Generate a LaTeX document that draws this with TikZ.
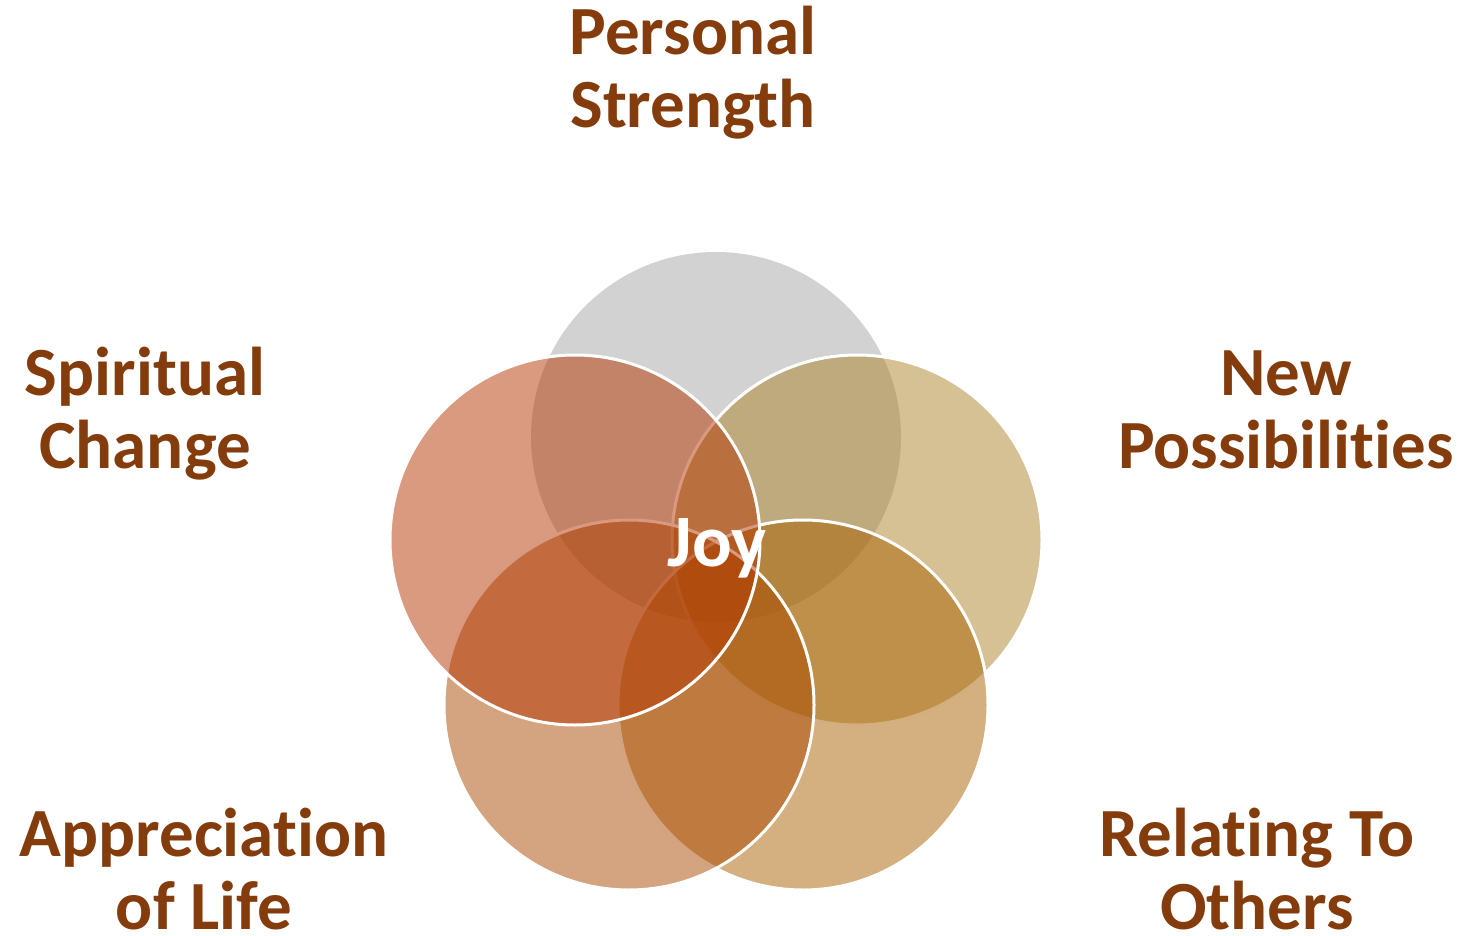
\documentclass[tikz,border=0pt]{standalone}
\usepackage{fontspec}
\setmainfont{Carlito}[Ligatures=NoCommon]
\definecolor{txtbrown}{HTML}{843C0C}
\definecolor{cTop}{HTML}{A5A5A5}
\definecolor{cLeft}{HTML}{B33500}
\definecolor{cRight}{HTML}{AD832B}
\definecolor{cBR}{HTML}{A95F00}
\definecolor{cBL}{HTML}{A94700}
\begin{document}
\begin{tikzpicture}[x=1pt,y=-1pt,
  petal/.style={circle, minimum size=370pt, inner sep=0pt, fill opacity=0.5, draw=white, line width=3pt, draw opacity=1},
  lbl/.style={text=txtbrown, font=\fontsize{69}{73}\selectfont\bfseries, align=center, anchor=base, inner sep=0pt}]
\useasboundingbox (0,0) rectangle (1462,936);
\node[petal, fill=cTop, draw=none] (top) at (716,437) {};
\node[petal, fill=cRight] (right) at (857,540) {};
\node[petal, fill=cBR] (br) at (803,705) {};
\node[petal, fill=cBL] (bl) at (629,705) {};
\node[petal, fill=cLeft] (left) at (575,540) {};
\node[text=white, font=\fontsize{74}{80}\selectfont\bfseries, anchor=base, inner sep=0pt] (joy) at (717,566) {Joy};
\node[lbl] (ps) at (693,128) {Personal\\Strength};
\node[lbl] (sc) at (145,468) {Spiritual\\Change};
\node[lbl] (np) at (1286,468) {New\\Possibilities};
\node[lbl] (al) at (204,929) {Appreciation\\of Life};
\node[lbl] (ro) at (1257,929) {Relating To\\Others};
\end{tikzpicture}
\end{document}
